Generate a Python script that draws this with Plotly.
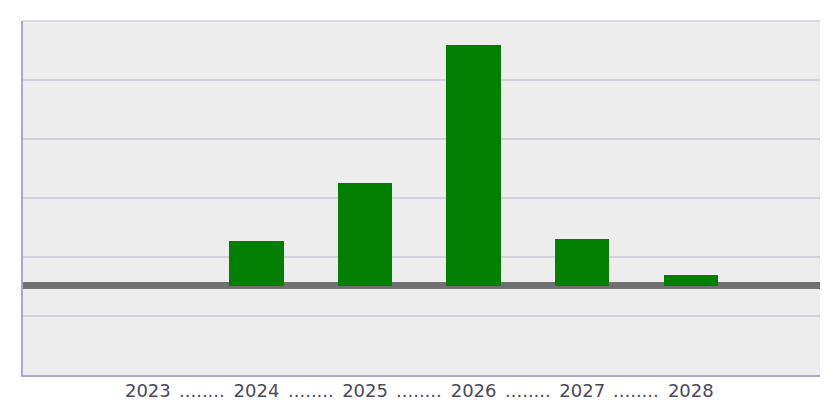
import plotly.graph_objects as go

years = ["2023", "2024", "2025", "2026", "2027", "2028"]
values = [0, 75.4, 173.7, 407.6, 78.8, 17.8]
grid_vals = [-51.7, 48.3, 148.3, 248.3, 348.3]
separator = "........"

x_idx = list(range(len(years)))
label_font = dict(family="DejaVu Sans, Verdana", size=18, color="#4a4a5c")

fig = go.Figure()
fig.add_trace(go.Bar(
    x=x_idx, y=values, width=0.5,
    marker=dict(color="#007F00", line=dict(width=0)),
    showlegend=False, hoverinfo="skip",
))

for i in range(len(years) - 1):
    fig.add_annotation(
        x=i + 0.5, y=0, xref="x", yref="paper", yanchor="top",
        yshift=-3, text=separator, showarrow=False,
        font=label_font,
    )

fig.update_layout(
    width=831, height=403,
    margin=dict(l=23, r=11, t=21, b=28),
    paper_bgcolor="white", plot_bgcolor="#EDEDED",
    bargap=0,
    xaxis=dict(
        range=[-1.15, 6.19], tickmode="array", tickvals=x_idx, ticktext=years,
        showgrid=False, zeroline=False, showline=True, linecolor="#A8A8C8", linewidth=2,
        ticks="", automargin=False, ticklabelstandoff=-2,
        tickfont=label_font,
    ),
    yaxis=dict(
        range=[-151.7, 448.3], tickmode="array", tickvals=grid_vals,
        showticklabels=False, showgrid=True, gridcolor="#D2D2E0", gridwidth=1.5,
        zeroline=True, zerolinecolor="#707070", zerolinewidth=7,
        showline=True, linecolor="#A8A8C8", linewidth=2, automargin=False,
    ),
    shapes=[dict(type="line", xref="paper", yref="paper", x0=0, x1=1, y0=1, y1=1,
                 line=dict(color="#D8D8E4", width=2))],
)

fig.write_html(
    "out.html",
    config={"displayModeBar": False},
    post_script="document.body.style.margin='0';document.body.style.overflow='hidden';",
)
